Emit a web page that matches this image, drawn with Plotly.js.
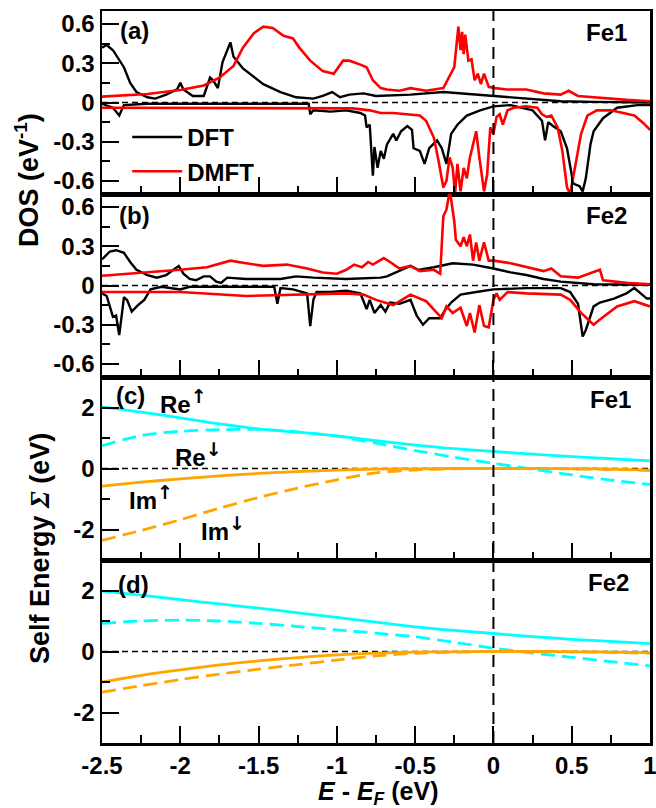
<!DOCTYPE html>
<html><head><meta charset="utf-8">
<script src="https://cdn.plot.ly/plotly-3.0.1.min.js"></script>
<style>html,body{margin:0;padding:0;background:#fff}</style>
</head><body><div id="chart" style="width:656px;height:808px"></div>
<script>
// ---------- DATA ----------
const xTickVals = [-2.5,-2,-1.5,-1,-0.5,0,0.5,1];
const xTickText = ['-2.5','-2','-1.5','-1','-0.5','0','0.5','1'];
const dosTickVals = [-0.6,-0.3,0,0.3,0.6];
const dosTickText = ['-0.6','-0.3','0','0.3','0.6'];
const seTickVals = [-2,0,2];
const seTickText = ['-2','0','2'];

// Panel (a) Fe1 DOS: [E, DOS]
const aDftUp = [[-2.5,0.42],[-2.47,0.44],[-2.43,0.40],[-2.36,0.27],[-2.32,0.15],[-2.28,0.08],[-2.21,0.04],[-2.16,0.03],[-2.09,0.06],[-2.02,0.10],[-2.0,0.15],[-1.98,0.10],[-1.92,0.05],[-1.85,0.05],[-1.81,0.19],[-1.79,0.17],[-1.76,0.11],[-1.73,0.31],[-1.68,0.46],[-1.66,0.35],[-1.6,0.26],[-1.47,0.14],[-1.36,0.08],[-1.26,0.04],[-1.15,0.03],[-1.09,0.05],[-1.03,0.08],[-0.98,0.04],[-0.92,0.06],[-0.83,0.07],[-0.75,0.05],[-0.53,0.06],[-0.32,0.08],[0,0.05],[0.21,0.026],[0.43,0.01],[0.64,0.005],[1.0,0.0]];
const aDftDn = [[-2.5,-0.01],[-2.43,-0.04],[-2.39,-0.10],[-2.36,-0.02],[-2.21,-0.01],[-1.6,-0.01],[-1.18,-0.01],[-1.17,-0.09],[-1.15,-0.06],[-1.04,-0.07],[-0.94,-0.06],[-0.85,-0.08],[-0.82,-0.10],[-0.81,-0.19],[-0.79,-0.17],[-0.77,-0.56],[-0.76,-0.34],[-0.74,-0.50],[-0.72,-0.37],[-0.70,-0.43],[-0.68,-0.32],[-0.64,-0.24],[-0.62,-0.29],[-0.59,-0.22],[-0.55,-0.18],[-0.52,-0.21],[-0.51,-0.35],[-0.47,-0.37],[-0.44,-0.47],[-0.41,-0.35],[-0.36,-0.29],[-0.33,-0.35],[-0.30,-0.47],[-0.27,-0.24],[-0.23,-0.17],[-0.17,-0.10],[-0.085,-0.06],[0,-0.03],[0.11,-0.02],[0.25,-0.06],[0.31,-0.14],[0.33,-0.29],[0.35,-0.15],[0.38,-0.18],[0.43,-0.22],[0.47,-0.35],[0.51,-0.62],[0.55,-0.64],[0.57,-0.68],[0.59,-0.58],[0.62,-0.32],[0.64,-0.22],[0.70,-0.12],[0.79,-0.04],[0.92,-0.02],[1.0,-0.02]];
const aDmftUp = [[-2.5,0.045],[-2.21,0.065],[-2.0,0.095],[-1.85,0.13],[-1.75,0.19],[-1.66,0.28],[-1.60,0.42],[-1.53,0.53],[-1.47,0.58],[-1.41,0.57],[-1.34,0.51],[-1.28,0.49],[-1.24,0.42],[-1.17,0.32],[-1.09,0.24],[-1.02,0.22],[-0.96,0.32],[-0.92,0.32],[-0.85,0.29],[-0.81,0.27],[-0.77,0.17],[-0.72,0.11],[-0.68,0.10],[-0.60,0.09],[-0.53,0.11],[-0.43,0.09],[-0.32,0.11],[-0.28,0.20],[-0.25,0.27],[-0.224,0.58],[-0.21,0.40],[-0.20,0.54],[-0.19,0.37],[-0.18,0.52],[-0.16,0.32],[-0.14,0.33],[-0.12,0.17],[-0.10,0.22],[-0.08,0.14],[-0.06,0.22],[-0.03,0.12],[0.01,0.11],[0.085,0.10],[0.21,0.10],[0.32,0.07],[0.43,0.06],[0.48,0.09],[0.54,0.05],[0.64,0.04],[0.85,0.02],[1.0,0.01]];
const aDmftDn = [[-2.5,-0.04],[-1.5,-0.04],[-0.9,-0.045],[-0.79,-0.06],[-0.72,-0.08],[-0.64,-0.08],[-0.53,-0.09],[-0.47,-0.10],[-0.43,-0.14],[-0.38,-0.27],[-0.35,-0.45],[-0.32,-0.65],[-0.30,-0.60],[-0.28,-0.42],[-0.26,-0.50],[-0.245,-0.70],[-0.23,-0.47],[-0.21,-0.68],[-0.19,-0.50],[-0.17,-0.58],[-0.15,-0.42],[-0.13,-0.32],[-0.11,-0.22],[-0.09,-0.42],[-0.06,-0.68],[-0.04,-0.55],[-0.02,-0.19],[0,-0.24],[0.02,-0.11],[0.04,-0.09],[0.06,-0.17],[0.09,-0.06],[0.13,-0.04],[0.21,-0.03],[0.28,-0.04],[0.31,-0.09],[0.34,-0.11],[0.37,-0.10],[0.41,-0.19],[0.44,-0.37],[0.47,-0.65],[0.49,-0.70],[0.52,-0.50],[0.56,-0.24],[0.60,-0.10],[0.66,-0.06],[0.75,-0.06],[0.90,-0.10],[0.96,-0.16],[1.0,-0.21]];

// Panel (b) Fe2 DOS
const bDftUp = [[-2.5,0.20],[-2.45,0.26],[-2.41,0.27],[-2.36,0.25],[-2.32,0.18],[-2.28,0.12],[-2.21,0.08],[-2.15,0.06],[-2.09,0.08],[-2.01,0.15],[-1.98,0.09],[-1.94,0.05],[-1.90,0.04],[-1.85,0.07],[-1.81,0.07],[-1.77,0.03],[-1.74,0.02],[-1.70,0.06],[-1.58,0.05],[-1.36,0.05],[-1.26,0.07],[-1.15,0.06],[-0.94,0.05],[-0.72,0.06],[-0.68,0.07],[-0.53,0.15],[-0.48,0.12],[-0.38,0.14],[-0.26,0.17],[-0.13,0.16],[0,0.13],[0.11,0.10],[0.21,0.08],[0.32,0.05],[0.43,0.03],[0.64,0.01],[1.0,0.005]];
const bDftDn = [[-2.5,-0.06],[-2.47,-0.08],[-2.45,-0.16],[-2.43,-0.24],[-2.41,-0.23],[-2.39,-0.38],[-2.37,-0.19],[-2.36,-0.09],[-2.34,-0.11],[-2.31,-0.20],[-2.27,-0.15],[-2.23,-0.11],[-2.19,-0.03],[-2.12,-0.01],[-2.0,-0.03],[-1.94,-0.01],[-1.40,-0.01],[-1.38,-0.14],[-1.36,-0.02],[-1.28,-0.03],[-1.19,-0.06],[-1.17,-0.31],[-1.15,-0.11],[-1.13,-0.05],[-1.04,-0.05],[-0.94,-0.04],[-0.85,-0.06],[-0.81,-0.18],[-0.79,-0.11],[-0.76,-0.21],[-0.72,-0.15],[-0.69,-0.20],[-0.66,-0.13],[-0.60,-0.14],[-0.53,-0.11],[-0.49,-0.23],[-0.45,-0.30],[-0.41,-0.25],[-0.34,-0.25],[-0.31,-0.19],[-0.27,-0.13],[-0.21,-0.07],[-0.11,-0.05],[0,-0.03],[0.21,-0.02],[0.43,-0.02],[0.49,-0.05],[0.54,-0.14],[0.57,-0.39],[0.59,-0.34],[0.64,-0.16],[0.68,-0.13],[0.77,-0.10],[0.85,-0.06],[0.90,-0.02],[0.94,-0.06],[0.98,-0.10],[1.0,-0.10]];
const bDmftUp = [[-2.5,0.075],[-2.21,0.10],[-2.0,0.12],[-1.83,0.14],[-1.68,0.19],[-1.58,0.17],[-1.47,0.15],[-1.32,0.16],[-1.19,0.13],[-1.09,0.10],[-1.0,0.09],[-0.94,0.12],[-0.89,0.16],[-0.84,0.14],[-0.80,0.18],[-0.77,0.16],[-0.70,0.21],[-0.66,0.18],[-0.60,0.13],[-0.53,0.15],[-0.47,0.11],[-0.38,0.12],[-0.34,0.09],[-0.32,0.53],[-0.30,0.58],[-0.28,0.72],[-0.27,0.66],[-0.25,0.49],[-0.24,0.35],[-0.21,0.30],[-0.19,0.37],[-0.17,0.30],[-0.15,0.39],[-0.13,0.19],[-0.11,0.33],[-0.09,0.19],[-0.06,0.33],[-0.03,0.19],[0,0.19],[0.11,0.17],[0.21,0.14],[0.32,0.11],[0.37,0.13],[0.43,0.07],[0.54,0.06],[0.68,0.12],[0.70,0.04],[0.85,0.02],[1.0,0.01]];
const bDmftDn = [[-2.5,-0.05],[-2.0,-0.05],[-1.58,-0.08],[-1.15,-0.07],[-0.94,-0.06],[-0.83,-0.07],[-0.75,-0.11],[-0.64,-0.15],[-0.53,-0.07],[-0.43,-0.12],[-0.33,-0.25],[-0.30,-0.16],[-0.26,-0.21],[-0.21,-0.17],[-0.17,-0.31],[-0.15,-0.21],[-0.12,-0.36],[-0.09,-0.15],[-0.06,-0.31],[-0.03,-0.32],[0,-0.11],[0.02,-0.06],[0.04,-0.11],[0.09,-0.05],[0.21,-0.06],[0.43,-0.07],[0.49,-0.11],[0.56,-0.21],[0.64,-0.30],[0.68,-0.26],[0.79,-0.16],[0.90,-0.12],[1.0,-0.16]];

// Self energy (eV) sampled on a common energy grid
const seE = [-2.5,-2.25,-2.0,-1.75,-1.5,-1.25,-1.0,-0.75,-0.5,-0.25,0,0.25,0.5,0.75,1.0];
const cReUp = [2.02,1.85,1.66,1.46,1.30,1.19,1.07,0.91,0.77,0.65,0.56,0.47,0.39,0.32,0.25];
const cReDn = [0.75,1.08,1.22,1.27,1.28,1.20,1.06,0.83,0.59,0.37,0.17,-0.02,-0.21,-0.38,-0.52];
const cImUp = [-0.58,-0.45,-0.34,-0.24,-0.16,-0.10,-0.05,-0.02,-0.01,0,0,0,-0.01,-0.02,-0.05];
const cImDn = [-2.36,-2.03,-1.68,-1.30,-0.95,-0.64,-0.37,-0.14,-0.05,-0.01,0,0,-0.01,-0.03,-0.06];
const dReUp = [1.98,1.85,1.70,1.56,1.42,1.27,1.12,0.96,0.81,0.69,0.59,0.49,0.40,0.33,0.26];
const dReDn = [0.92,1.00,1.03,1.00,0.92,0.82,0.71,0.60,0.48,0.30,0.11,-0.05,-0.19,-0.33,-0.47];
const dImUp = [-1.0,-0.78,-0.60,-0.44,-0.31,-0.20,-0.11,-0.05,-0.02,-0.01,0,0,-0.01,-0.02,-0.04];
const dImDn = [-1.33,-1.12,-0.92,-0.74,-0.58,-0.43,-0.28,-0.14,-0.06,-0.02,0,0,-0.01,-0.03,-0.06];

const xRange = [-2.5, 1];
const dosRange = [-0.7, 0.7];
const seRange = [-3, 3];
const fermiE = 0;

// ---------- STYLE ----------
const FONT = 'Liberation Sans, Arial, Helvetica, sans-serif';
const BLACK = '#000000', RED = '#ff0000', CYAN = '#00ffff', ORANGE = '#ffa500';

function pairTrace(pts, xa, ya, color, width, name, showlegend) {
  return {x: pts.map(p => p[0]), y: pts.map(p => p[1]), xaxis: xa, yaxis: ya,
    type: 'scatter', mode: 'lines', name: name, showlegend: showlegend, legendgroup: name,
    line: {color: color, width: width}, hoverinfo: 'skip'};
}
function seTrace(ys, xa, ya, color, dash) {
  return {x: seE, y: ys, xaxis: xa, yaxis: ya, type: 'scatter', mode: 'lines', showlegend: false,
    line: {color: color, width: 2.8, dash: dash, shape: 'spline', smoothing: 0.8}, hoverinfo: 'skip'};
}

const data = [
  pairTrace(aDftUp, 'x', 'y', BLACK, 2.4, 'DFT', true),
  pairTrace(aDftDn, 'x', 'y', BLACK, 2.4, 'DFT', false),
  pairTrace(bDftUp, 'x2', 'y2', BLACK, 2.4, 'DFT', false),
  pairTrace(bDftDn, 'x2', 'y2', BLACK, 2.4, 'DFT', false),
  pairTrace(aDmftUp, 'x', 'y', RED, 2.6, 'DMFT', true),
  pairTrace(aDmftDn, 'x', 'y', RED, 2.6, 'DMFT', false),
  pairTrace(bDmftUp, 'x2', 'y2', RED, 2.6, 'DMFT', false),
  pairTrace(bDmftDn, 'x2', 'y2', RED, 2.6, 'DMFT', false),
  seTrace(cReUp, 'x3', 'y3', CYAN, 'solid'),
  seTrace(cReDn, 'x3', 'y3', CYAN, '14px,7px'),
  seTrace(cImUp, 'x3', 'y3', ORANGE, 'solid'),
  seTrace(cImDn, 'x3', 'y3', ORANGE, '14px,7px'),
  seTrace(dReUp, 'x4', 'y4', CYAN, 'solid'),
  seTrace(dReDn, 'x4', 'y4', CYAN, '14px,7px'),
  seTrace(dImUp, 'x4', 'y4', ORANGE, 'solid'),
  seTrace(dImDn, 'x4', 'y4', ORANGE, '14px,7px')
];

function tf() { return {family: FONT, size: 24, color: 'black', weight: 'bold'}; }
function xAxis(anchor, showLabels) {
  return {anchor: anchor, domain: [0, 1], range: xRange, showgrid: false, zeroline: false,
    showline: true, linecolor: 'black', linewidth: 2.5, mirror: true,
    ticks: 'inside', ticklen: 17, tickwidth: 2, tickcolor: 'black',
    tickmode: 'array', tickvals: xTickVals, ticktext: xTickText,
    showticklabels: showLabels, tickfont: tf(), ticklabeloverflow: 'allow',
    minor: {ticks: 'inside', ticklen: 8, tickwidth: 2, tickcolor: 'black', tickmode: 'linear', tick0: 0, dtick: 0.25, showgrid: false}};
}
function yAxis(anchor, dom, rng, vals, text, minorDt) {
  return {anchor: anchor, domain: dom, range: rng, showgrid: false, zeroline: false,
    showline: true, linecolor: 'black', linewidth: 2.5, mirror: true,
    ticks: 'inside', ticklen: 17, tickwidth: 2, tickcolor: 'black',
    tickmode: 'array', tickvals: vals, ticktext: text, tickfont: tf(), ticklabeloverflow: 'allow',
    minor: {ticks: 'inside', ticklen: 8, tickwidth: 2, tickcolor: 'black', tickmode: 'linear', tick0: 0, dtick: minorDt, showgrid: false}};
}

function zeroLine(xa, ya) {
  return {type: 'line', xref: xa, yref: ya, x0: xRange[0], x1: xRange[1], y0: 0, y1: 0,
    line: {color: 'black', width: 1.3, dash: '6px,4px'}, layer: 'below'};
}

function lbl(sz) { return {family: FONT, size: sz || 24, color: 'black', weight: 'bold'}; }
function ann(text, xa, ya, x, y, xanchor, extra) {
  return Object.assign({text: text, xref: xa, yref: ya, x: x, y: y, xanchor: xanchor, yanchor: 'middle',
    showarrow: false, font: lbl(24)}, extra || {});
}
const UP = '<sup><span style="font-family:DejaVu Sans;font-size:19px;font-weight:bold">↑</span></sup>';
const DN = '<sup><span style="font-family:DejaVu Sans;font-size:19px;font-weight:bold">↓</span></sup>';

const layout = {
  width: 656, height: 808,
  margin: {l: 102, r: 6, t: 11, b: 65},
  paper_bgcolor: 'white', plot_bgcolor: 'white',
  font: {family: FONT, size: 24, color: 'black'},
  showlegend: true,
  legend: {x: 0.046, y: 0.858, xanchor: 'left', yanchor: 'top', bgcolor: 'rgba(0,0,0,0)',
    itemwidth: 50, font: {family: FONT, size: 24, color: 'black', weight: 'bold'}, tracegroupgap: 0},
  xaxis: xAxis('y', false),
  xaxis2: xAxis('y2', false),
  xaxis3: xAxis('y3', false),
  xaxis4: xAxis('y4', true),
  yaxis: yAxis('x', [0.75, 1], dosRange, dosTickVals, dosTickText, 0.15),
  yaxis2: yAxis('x2', [0.5, 0.75], dosRange, dosTickVals, dosTickText, 0.15),
  yaxis3: yAxis('x3', [0.25, 0.5], seRange, seTickVals, seTickText, 1),
  yaxis4: yAxis('x4', [0, 0.25], seRange, seTickVals, seTickText, 1),
  shapes: [
    zeroLine('x', 'y'), zeroLine('x2', 'y2'), zeroLine('x3', 'y3'), zeroLine('x4', 'y4'),
    {type: 'line', xref: 'x', yref: 'paper', x0: fermiE, x1: fermiE, y0: 0, y1: 1,
      line: {color: 'black', width: 2, dash: '12px,7px'}, layer: 'above'}
  ],
  annotations: [
    ann('(a)', 'paper', 'paper', 0.0602, 0.974, 'center'),
    ann('Fe1', 'paper', 'paper', 0.9215, 0.970, 'center'),
    ann('(b)', 'paper', 'paper', 0.0584, 0.7213, 'center'),
    ann('Fe2', 'paper', 'paper', 0.9215, 0.7213, 'center'),
    ann('(c)', 'paper', 'paper', 0.0529, 0.4754, 'center'),
    ann('Fe1', 'paper', 'paper', 0.9288, 0.4686, 'center'),
    ann('(d)', 'paper', 'paper', 0.0566, 0.2172, 'center'),
    ann('Fe2', 'paper', 'paper', 0.9234, 0.2186, 'center'),
    ann('Re' + UP, 'x3', 'y3', -2.142, 2.2, 'left'),
    ann('Re' + DN, 'x3', 'y3', -2.046, 0.45, 'left'),
    ann('Im' + UP, 'x3', 'y3', -2.34, -0.95, 'left'),
    ann('Im' + DN, 'x3', 'y3', -1.88, -1.98, 'left'),
    ann('DOS (eV<sup>-1</sup>)', 'paper', 'paper', -0.137, 0.769, 'center',
      {textangle: -90, font: lbl(27)}),
    ann('Self Energy <span style="font-family:Liberation Serif;font-style:italic">Σ</span> (eV)', 'paper', 'paper', -0.113, 0.265, 'center',
      {textangle: -90, font: lbl(27)}),
    ann('<i>E</i> - <i>E</i><sub><i>F</i></sub> (eV)', 'paper', 'paper', 0.5036, -0.068, 'center',
      {font: lbl(25)})
  ]
};

Plotly.newPlot('chart', data, layout, {displayModeBar: false, staticPlot: true});
</script></body></html>
